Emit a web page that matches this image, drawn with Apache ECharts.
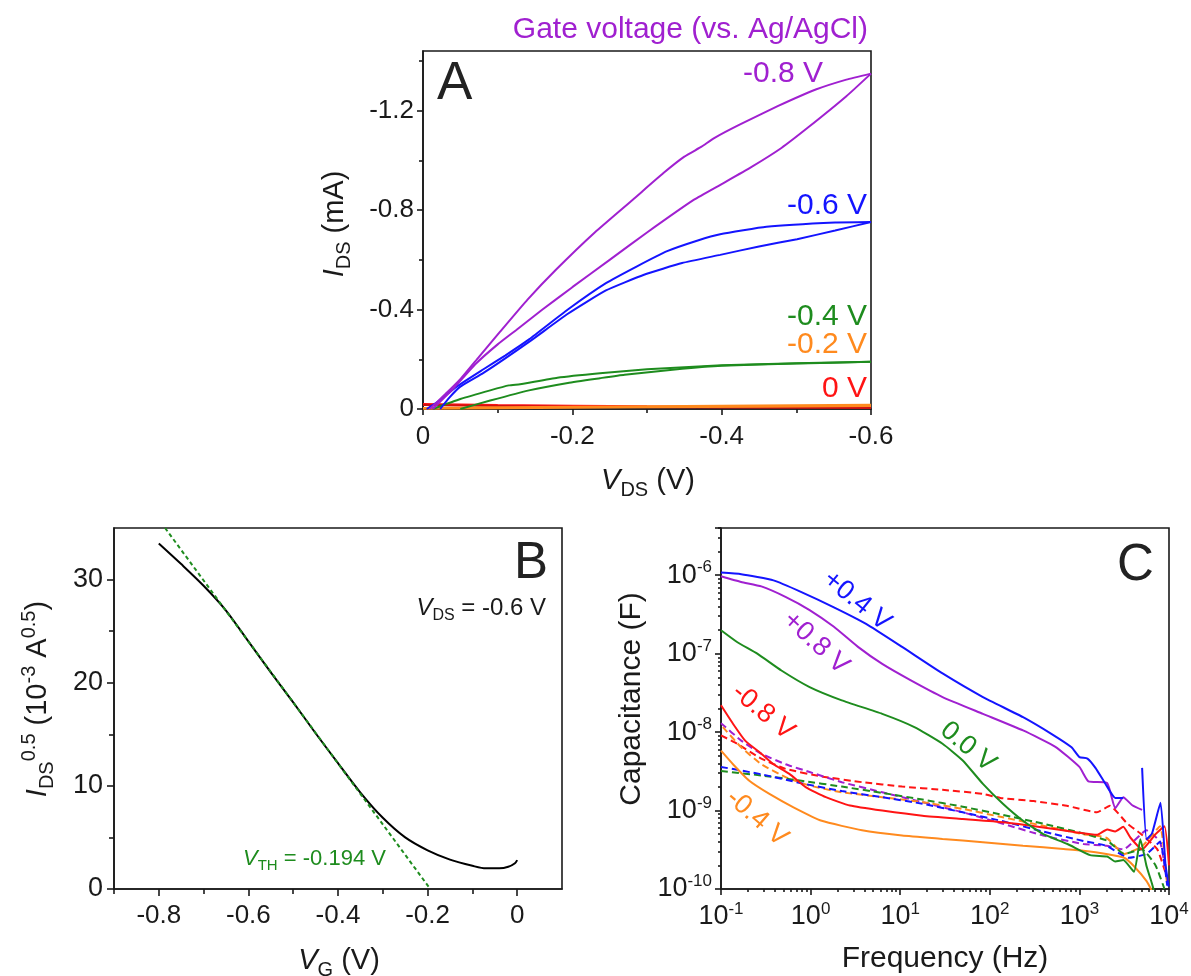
<!DOCTYPE html>
<html><head><meta charset="utf-8">
<script src="https://cdn.jsdelivr.net/npm/echarts@6/dist/echarts.min.js"></script>
<style>html,body{margin:0;padding:0;background:#fff}#c{width:1191px;height:976px}</style>
</head><body><div id="c"></div>
<script>
// ---------------- Panel A data: [V_DS (V), I_DS (mA)] ----------------
const vdsTicksA = [0, -0.2, -0.4, -0.6];
const vdsMinorA = [-0.1, -0.3, -0.5];
const idsTicksA = [0, -0.4, -0.8, -1.2];
const idsMinorA = [-0.2, -0.6, -1.0, -1.4];
const purpleOuterA = [[-0.009,0],[-0.03,-0.06],[-0.05,-0.12],[-0.075,-0.21],[-0.103,-0.31],[-0.14,-0.44],[-0.178,-0.56],[-0.23,-0.71],[-0.281,-0.842],[-0.322,-0.949],[-0.35,-1.015],[-0.373,-1.055],[-0.39,-1.09],[-0.424,-1.144],[-0.475,-1.218],[-0.526,-1.285],[-0.567,-1.325],[-0.6,-1.349]];
const purpleInnerA = [[-0.013,0],[-0.04,-0.08],[-0.07,-0.18],[-0.1,-0.26],[-0.125,-0.318],[-0.16,-0.40],[-0.2,-0.49],[-0.25,-0.6],[-0.3,-0.71],[-0.363,-0.842],[-0.4,-0.905],[-0.439,-0.972],[-0.48,-1.05],[-0.516,-1.133],[-0.567,-1.258],[-0.6,-1.349]];
const blueOuterA = [[-0.005,0],[-0.02,-0.03],[-0.045,-0.09],[-0.081,-0.16],[-0.11,-0.215],[-0.142,-0.28],[-0.194,-0.40],[-0.245,-0.506],[-0.286,-0.573],[-0.327,-0.635],[-0.368,-0.678],[-0.398,-0.703],[-0.46,-0.733],[-0.552,-0.75],[-0.6,-0.752]];
const blueInnerA = [[-0.023,0],[-0.035,-0.045],[-0.05,-0.09],[-0.081,-0.145],[-0.142,-0.27],[-0.194,-0.383],[-0.245,-0.477],[-0.296,-0.54],[-0.347,-0.587],[-0.398,-0.62],[-0.45,-0.654],[-0.501,-0.683],[-0.552,-0.718],[-0.6,-0.752]];
const greenUpperA = [[-0.013,0],[-0.05,-0.04],[-0.09,-0.075],[-0.115,-0.095],[-0.13,-0.1],[-0.18,-0.126],[-0.237,-0.144],[-0.3,-0.16],[-0.4,-0.176],[-0.5,-0.184],[-0.6,-0.19]];
const greenLowerA = [[-0.05,0],[-0.09,-0.034],[-0.142,-0.075],[-0.194,-0.105],[-0.237,-0.124],[-0.27,-0.138],[-0.347,-0.162],[-0.4,-0.174],[-0.5,-0.183],[-0.6,-0.19]];
const orangeFwdA = [[0,-0.004],[-0.2,-0.009],[-0.4,-0.013],[-0.6,-0.017]];
const orangeRevA = [[0,-0.001],[-0.3,-0.007],[-0.6,-0.012]];
const redFwdA = [[0,-0.02],[-0.1,-0.016],[-0.3,-0.011],[-0.6,-0.008]];
const redRevA = [[0,-0.016],[-0.2,-0.009],[-0.6,-0.004]];

// ---------------- Panel B data ----------------
const vgTicksB = [-0.8, -0.6, -0.4, -0.2, 0];
const vgMinorB = [-0.9, -0.7, -0.5, -0.3, -0.1];
const sqrtTicksB = [0, 10, 20, 30];
const sqrtMinorB = [5, 15, 25];
const vgB = [-0.8,-0.75,-0.7,-0.65,-0.6,-0.55,-0.5,-0.45,-0.4,-0.35,-0.3,-0.25,-0.2,-0.15,-0.1,-0.07,-0.04,-0.02,-0.005,0];
const sqrtIdsB = [33.5,31.5,29.4,27.0,24.0,21.0,18.1,15.1,12.2,9.35,6.9,5.0,3.75,2.85,2.25,2.0,2.0,2.15,2.5,2.8];
const fitVgB = [-0.786, -0.194];
const fitSqrtB = [35, 0];

// ---------------- Panel C data: [frequency (Hz), capacitance (F)] ----------------
const blueSolidC = [[0.1,1.08e-6],[0.168,1.03e-6],[0.385,8.6e-7],[0.79,6.1e-7],[1.82,3.9e-7],[4.16,2.4e-7],[10.5,1.22e-7],[29.7,5.6e-8],[83.8,2.8e-8],[235,1.55e-8],[486,9.5e-9],[817,6.4e-9],[1000,4.8e-9],[1230,4.6e-9],[1510,3.5e-9],[1950,2.2e-9],[2510,1.45e-9],[3090,1.45e-9]];
const blueSpikeC = [[5010,3.5e-9],[5620,4.3e-10],[6460,5.1e-10],[8040,1.26e-9],[9120,2.1e-10],[9930,1.07e-10]];
const purpleSolidC = [[0.1,9.7e-7],[0.168,8.2e-7],[0.282,7.2e-7],[0.524,5.3e-7],[0.975,3.6e-7],[1.82,2.2e-7],[3.38,1.22e-7],[6.3,7.4e-8],[13,4.6e-8],[29.7,2.8e-8],[83.8,1.71e-8],[235,1.05e-8],[540,6.5e-9],[1000,3.6e-9],[1260,2.35e-9],[2040,2.25e-9],[2510,1.07e-9],[3090,1.48e-9],[3890,1.17e-9],[5010,1.02e-9]];
const greenSolidC = [[0.1,1.99e-7],[0.151,1.41e-7],[0.254,1.0e-7],[0.472,6.1e-8],[0.975,3.75e-8],[2.23,2.54e-8],[6.3,1.71e-8],[14.4,1.16e-8],[29.7,7.1e-9],[49.9,4.35e-9],[83.8,2.19e-9],[140,1.22e-9],[235,7.4e-10],[395,5.0e-10],[736,3.75e-10],[1320,2.7e-10],[2040,2.6e-10],[2510,2.24e-10],[3090,2.34e-10],[4070,1.66e-10],[4790,4.3e-10],[5620,1.95e-10],[6460,1.17e-10],[7080,8e-11]];
const redSolidC = [[0.1,2.2e-8],[0.136,1.28e-8],[0.186,7.8e-9],[0.282,5.3e-9],[0.385,3.9e-9],[0.58,2.94e-9],[0.88,1.99e-9],[1.48,1.48e-9],[2.75,1.16e-9],[6.3,1.0e-9],[17.7,8.6e-10],[49.9,7.8e-10],[140,7.1e-10],[395,6.1e-10],[906,5.3e-10],[1570,4.9e-10],[2040,5.75e-10],[2510,5.4e-10],[3090,6.2e-10],[3720,4.5e-10],[5010,3.2e-10],[7080,5e-10],[8900,6.3e-10],[10000,2e-10]];
const orangeSolidC = [[0.1,5.8e-9],[0.136,3.9e-9],[0.207,2.4e-9],[0.347,1.63e-9],[0.644,1.1e-9],[1.33,7.4e-10],[3.75,5.6e-10],[10.5,4.8e-10],[29.7,4.35e-10],[83.8,3.95e-10],[235,3.57e-10],[664,3.24e-10],[1110,3.08e-10],[2000,2.8e-10],[3160,2.5e-10],[4070,1.95e-10],[5620,1.26e-10],[6610,9e-11]];
const redDashC = [[0.1,9.1e-9],[0.151,7.1e-9],[0.282,4.6e-9],[0.525,3.4e-9],[1.33,2.72e-9],[3.75,2.3e-9],[10.5,2.02e-9],[29.7,1.84e-9],[83.8,1.63e-9],[131,1.45e-9],[309,1.32e-9],[724,1.15e-9],[1570,9.5e-10],[2190,1.15e-9],[3390,6.9e-10],[4790,5.1e-10],[7410,3.2e-10],[9770,1.26e-10]];
const purpleDashC = [[0.1,1.3e-8],[0.168,7.8e-9],[0.282,5.3e-9],[0.525,3.9e-9],[0.975,3.1e-9],[2.23,2.3e-9],[6.3,1.71e-9],[17.7,1.28e-9],[49.9,9.5e-10],[140,6.8e-10],[395,4.8e-10],[1110,3.75e-10],[2000,3.55e-10],[3090,3.2e-10],[5620,5.6e-10],[7940,4e-10],[9550,1.26e-10]];
const orangeDashC = [[0.105,1.16e-8],[0.168,6.4e-9],[0.282,3.9e-9],[0.525,2.67e-9],[0.975,2.08e-9],[2.23,1.71e-9],[6.3,1.48e-9],[17.7,1.28e-9],[49.9,1.05e-9],[140,8.2e-10],[395,6.4e-10],[1110,5.0e-10],[2000,4.5e-10],[3160,2.8e-10],[5010,3.5e-10],[7940,6.3e-10],[9550,1.1e-10]];
const greenDashC = [[0.1,3.2e-9],[0.282,2.8e-9],[0.79,2.4e-9],[2.23,2.02e-9],[6.3,1.68e-9],[17.7,1.38e-9],[49.9,1.12e-9],[140,8.8e-10],[395,6.8e-10],[1110,5.1e-10],[2070,4.1e-10],[3160,2.8e-10],[5010,3.2e-10],[7080,2e-10],[8900,1e-10]];
const blueDashC = [[0.1,3.6e-9],[0.282,2.9e-9],[0.79,2.23e-9],[2.23,1.77e-9],[6.3,1.48e-9],[17.7,1.22e-9],[49.9,9.5e-10],[140,7.3e-10],[395,5.4e-10],[1110,4.1e-10],[2000,3.55e-10],[3550,2.5e-10],[5620,2.8e-10],[7940,4e-10],[9550,1.1e-10]];

// ---------------- styling ----------------
const FONT = "'Liberation Sans', Arial, Helvetica, sans-serif";
const AX = '#1a1a1a';
const C_PURPLE = '#a020d0', C_BLUE = '#1414ff', C_GREEN = '#1e8c1e', C_ORANGE = '#ff8a1e', C_RED = '#ff1414';

function rich(fs, color) {
  const s = Math.round(fs * 0.68);
  return {
    n: {fontSize: fs, fontFamily: FONT, fill: color, lineHeight: Math.round(fs * 1.3)},
    i: {fontSize: fs, fontFamily: FONT, fontStyle: 'italic', fill: color, lineHeight: Math.round(fs * 1.3)},
    b: {fontSize: s, fontFamily: FONT, fill: color, verticalAlign: 'bottom', lineHeight: s},
    t: {fontSize: s, fontFamily: FONT, fill: color, verticalAlign: 'top', lineHeight: s}
  };
}
function gtext(x, y, text, fs, color, align, rot) {
  return {type: 'text', x: x, y: y, rotation: rot || 0, silent: true, z: 100,
    style: {text: text, rich: rich(fs, color), fill: color, fontSize: fs, fontFamily: FONT,
            align: align || 'center', verticalAlign: 'middle'}};
}
function valAxis(grid, min, max, inverse, pos, ticks, labels, tickLen, labelOpt) {
  return {
    type: 'value', gridIndex: grid, min: min, max: max, inverse: inverse, position: pos,
    axisLine: {show: !!labels, onZero: false, lineStyle: {color: AX, width: 1.6}},
    axisTick: {show: true, inside: false, length: tickLen, customValues: ticks, lineStyle: {color: AX, width: 1.6}},
    axisLabel: labels ? Object.assign({show: true, customValues: labels, color: AX, fontFamily: FONT}, labelOpt) : {show: false},
    splitLine: {show: false}, minorTick: {show: false}, axisPointer: {show: false}
  };
}
function logMinor(lo, hi, top) {
  const out = [];
  for (let e = lo; e < hi; e++) for (let k = 2; k <= 9; k++) {
    const v = Math.log10(k) + e; if (top === undefined || v <= top + 1e-9) out.push(v);
  }
  return out;
}
function powLabel(v) {
  const e = Math.log10(v);
  if (Math.abs(e - Math.round(e)) > 1e-4) return '';
  return '{b|10}{s|' + Math.round(e) + '}';
}
const powRich = {
  b: {fontSize: 27, fontFamily: FONT, color: AX, lineHeight: 32},
  s: {fontSize: 17, fontFamily: FONT, color: AX, verticalAlign: 'top', lineHeight: 17}
};
function logAxis(grid, min, max, pos, margin) {
  return {
    type: 'log', logBase: 10, gridIndex: grid, min: min, max: max, position: pos,
    axisLine: {show: true, onZero: false, lineStyle: {color: AX, width: 1.6}},
    axisTick: {show: true, inside: false, length: 6, lineStyle: {color: AX, width: 1.6}},
    axisLabel: {show: true, formatter: powLabel, rich: powRich, margin: margin, color: AX, fontFamily: FONT,
                showMaxLabel: true, showMinLabel: true},
    splitLine: {show: false}, minorTick: {show: false}, axisPointer: {show: false}
  };
}
function line(data, color, xi, yi, dashed, w) {
  return {type: 'line', data: data, xAxisIndex: xi, yAxisIndex: yi, showSymbol: false, symbol: 'none',
    smooth: 0.15, silent: true, animation: false, z: dashed ? 2 : 3,
    lineStyle: {color: color, width: w || 2, type: dashed ? [7, 4] : 'solid'}, itemStyle: {color: color}};
}

const gridBase = {show: true, borderColor: AX, borderWidth: 1.6, backgroundColor: 'transparent', containLabel: false, outerBoundsMode: 'none'};
const cTop = Math.log10(4e-6);

const option = {
  animation: false,
  backgroundColor: '#ffffff',
  grid: [
    Object.assign({left: 423, top: 51, width: 448, height: 358}, gridBase),
    Object.assign({left: 114, top: 528, width: 448, height: 361}, gridBase),
    Object.assign({left: 721, top: 528, width: 448, height: 361}, gridBase)
  ],
  xAxis: [
    valAxis(0, -0.6, 0, true, 'bottom', vdsTicksA, vdsTicksA, 6, {fontSize: 26, margin: 15}),
    valAxis(0, -0.6, 0, true, 'bottom', vdsMinorA, null, 4),
    valAxis(1, -0.9, 0.1, false, 'bottom', vgTicksB, vgTicksB, 7, {fontSize: 26, margin: 14}),
    valAxis(1, -0.9, 0.1, false, 'bottom', vgMinorB, null, 5),
    logAxis(2, 0.1, 10000, 'bottom', 12),
    valAxis(2, -1, 4, false, 'bottom', logMinor(-1, 4), null, 3)
  ],
  yAxis: [
    valAxis(0, -1.44, 0, true, 'left', idsTicksA, idsTicksA, 6, {fontSize: 26, margin: 9}),
    valAxis(0, -1.44, 0, true, 'left', idsMinorA, null, 4),
    valAxis(1, 0, 35, false, 'left', sqrtTicksB, sqrtTicksB, 7, {fontSize: 27, margin: 11}),
    valAxis(1, 0, 35, false, 'left', sqrtMinorB, null, 5),
    logAxis(2, 1e-10, 4e-6, 'left', 9),
    valAxis(2, -10, cTop, false, 'left', logMinor(-10, -5, cTop), null, 3)
  ],
  series: [
    // Panel A
    line(redFwdA, C_RED, 0, 0), line(redRevA, '#d01010', 0, 0),
    line(orangeFwdA, C_ORANGE, 0, 0), line(orangeRevA, C_ORANGE, 0, 0),
    line(greenUpperA, C_GREEN, 0, 0), line(greenLowerA, C_GREEN, 0, 0),
    line(blueOuterA, C_BLUE, 0, 0), line(blueInnerA, C_BLUE, 0, 0),
    line(purpleOuterA, C_PURPLE, 0, 0), line(purpleInnerA, C_PURPLE, 0, 0),
    // Panel B
    Object.assign(line(vgB.map((v, i) => [v, sqrtIdsB[i]]), '#000000', 2, 2), {smooth: 0.3}),
    Object.assign(line(fitVgB.map((v, i) => [v, fitSqrtB[i]]), C_GREEN, 2, 2), {smooth: false, z: 4,
      lineStyle: {color: C_GREEN, width: 2, type: [4, 3]}}),
    // Panel C dashed
    line(redDashC, C_RED, 4, 4, true), line(purpleDashC, C_PURPLE, 4, 4, true),
    line(orangeDashC, C_ORANGE, 4, 4, true), line(greenDashC, C_GREEN, 4, 4, true),
    line(blueDashC, C_BLUE, 4, 4, true),
    // Panel C solid
    line(orangeSolidC, C_ORANGE, 4, 4), line(redSolidC, C_RED, 4, 4),
    line(greenSolidC, C_GREEN, 4, 4), line(purpleSolidC, C_PURPLE, 4, 4),
    line(blueSolidC, C_BLUE, 4, 4), line(blueSpikeC, C_BLUE, 4, 4)
  ],
  graphic: [
    // Panel A
    gtext(868, 30, '{n|Gate voltage (vs. Ag/AgCl)}', 30, C_PURPLE, 'right'),
    gtext(437, 84, '{n|A}', 53, '#222222', 'left'),
    gtext(823, 74, '{n|-0.8 V}', 30, C_PURPLE, 'right'),
    gtext(867, 206, '{n|-0.6 V}', 30, C_BLUE, 'right'),
    gtext(867, 317, '{n|-0.4 V}', 30, C_GREEN, 'right'),
    gtext(867, 345, '{n|-0.2 V}', 30, C_ORANGE, 'right'),
    gtext(867, 389, '{n|0 V}', 30, C_RED, 'right'),
    gtext(648, 481, '{i|V}{b|DS}{n| (V)}', 29, AX, 'center'),
    gtext(335, 224, '{i|I}{b|DS}{n| (mA)}', 29, AX, 'center', Math.PI / 2),
    // Panel B
    gtext(514, 564, '{n|B}', 51, '#222222', 'left'),
    gtext(546, 608, '{i|V}{b|DS}{n| = -0.6 V}', 24, AX, 'right'),
    gtext(243, 859, '{i|V}{b|TH}{n| = -0.194 V}', 22, C_GREEN, 'left'),
    gtext(339, 961, '{i|V}{b|G}{n| (V)}', 29, AX, 'center'),
    gtext(38, 699, '{i|I}{b|DS}{t|0.5}{n| (10}{t|-3}{n| A}{t|0.5}{n|)}', 29, AX, 'center', Math.PI / 2),
    // Panel C
    gtext(1117, 566, '{n|C}', 51, '#222222', 'left'),
    gtext(945, 959, '{n|Frequency (Hz)}', 30, AX, 'center'),
    gtext(632, 699, '{n|Capacitance (F)}', 30, AX, 'center', Math.PI / 2),
    gtext(857, 601, '{n|+0.4 V}', 27, C_BLUE, 'center', -0.68),
    gtext(816, 643, '{n|+0.8 V}', 27, C_PURPLE, 'center', -0.74),
    gtext(763, 712, '{n|-0.8 V}', 27, C_RED, 'center', -0.69),
    gtext(968, 747, '{n|0.0 V}', 27, C_GREEN, 'center', -0.69),
    gtext(757, 818, '{n|-0.4 V}', 27, C_ORANGE, 'center', -0.71)
  ]
};

const chart = echarts.init(document.getElementById('c'), null, {renderer: 'canvas'});
chart.setOption(option);
</script></body></html>
